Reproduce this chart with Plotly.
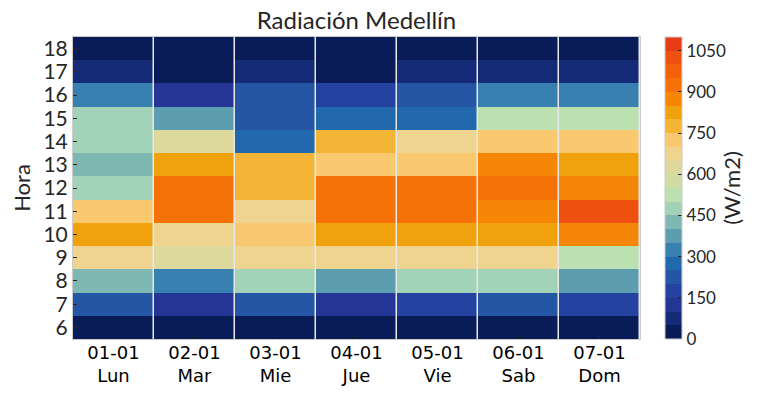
import plotly.graph_objects as go

title = "Radiación Medellín"
days = ["01-01<br>Lun", "02-01<br>Mar", "03-01<br>Mie", "04-01<br>Jue",
        "05-01<br>Vie", "06-01<br>Sab", "07-01<br>Dom"]
hours = [6, 7, 8, 9, 10, 11, 12, 13, 14, 15, 16, 17, 18]

# W/m2 per hour (6..18) for each day
lun = [25, 225, 425, 675, 825, 725, 475, 425, 475, 475, 325, 75, 25]
mar = [25, 125, 325, 625, 675, 925, 925, 825, 625, 375, 125, 25, 25]
mie = [25, 225, 475, 675, 725, 675, 775, 775, 275, 225, 225, 75, 25]
jue = [25, 125, 375, 675, 825, 925, 925, 725, 775, 275, 175, 25, 25]
vie = [25, 175, 475, 675, 825, 925, 925, 725, 675, 275, 225, 75, 25]
sab = [25, 225, 475, 675, 825, 875, 925, 875, 725, 525, 325, 75, 25]
dom = [25, 175, 375, 525, 875, 1025, 875, 825, 725, 525, 325, 75, 25]

cbar_ticks = [0, 150, 300, 450, 600, 750, 900, 1050]
zmin, zmax = 0, 1100
palette = ["#0a1c58", "#152b78", "#253596", "#2442a0", "#2456a5", "#2268ac",
           "#3880b0", "#5c9db0", "#7fb8b2", "#a2d3b8", "#bde0b0", "#d0dca4",
           "#ddd89c", "#efd48f", "#fac96f", "#f4b536", "#f0a20c", "#f58606",
           "#f57208", "#f3620a", "#ee5010", "#e83c16"]

n = len(palette)
colorscale = []
for i, c in enumerate(palette):
    colorscale.append([i / n, c])
    colorscale.append([(i + 1) / n, c])

cols = [lun, mar, mie, jue, vie, sab, dom]
z = [[cols[d][h] for d in range(len(days))] for h in range(len(hours))]

FONT = "Lato"
TXT = "#262626"
W, H = 767, 395

fig = go.Figure(go.Heatmap(
    z=z, x=list(range(len(days))), y=hours,
    colorscale=colorscale, zmin=zmin, zmax=zmax,
    xgap=1.5,
    colorbar=dict(
        thickness=17, len=1, lenmode="fraction", y=0.5, yanchor="middle",
        x=1.044, xanchor="left", xpad=0, ypad=0,
        outlinewidth=1, outlinecolor="#cccccc",
        tickvals=cbar_ticks, ticks="inside", ticklen=4, tickcolor="#262626",
        tickfont=dict(family=FONT, size=17, color=TXT),
        title=dict(text="(W/m2)", side="right",
                   font=dict(family=FONT, size=22, color=TXT)),
    ),
))

fig.update_layout(
    width=W, height=H,
    margin=dict(l=73, r=127, t=37, b=56, autoexpand=False),
    paper_bgcolor="white", plot_bgcolor="#e8e8e8",
    title=dict(text=title, x=0.5, xref="paper", xanchor="center",
               y=1 - 21 / H, yref="container", yanchor="middle",
               font=dict(family=FONT, size=24, color=TXT)),
    xaxis=dict(tickvals=list(range(len(days))), ticktext=days,
               range=[-0.5, len(days) - 0.5], automargin=False,
               ticks="inside", ticklen=4, tickcolor="#262626",
               ticklabelstandoff=-3,
               tickfont=dict(family="DejaVu Sans", size=18, color="black"),
               showgrid=False, zeroline=False,
               showline=True, mirror=True, linecolor="#cccccc", linewidth=1),
    yaxis=dict(tickvals=hours, range=[hours[0] - 0.5, hours[-1] + 0.5],
               automargin=False,
               ticks="inside", ticklen=4, tickcolor="#262626",
               tickfont=dict(family=FONT, size=21, color=TXT),
               title=dict(text="Hora", font=dict(family=FONT, size=22, color=TXT),
                          standoff=6),
               showgrid=False, zeroline=False,
               showline=True, mirror=True, linecolor="#cccccc", linewidth=1),
)

fig.write_html("out.html", config={"displayModeBar": False},
               post_script="document.body.style.margin='0';document.body.style.overflow='hidden';")
